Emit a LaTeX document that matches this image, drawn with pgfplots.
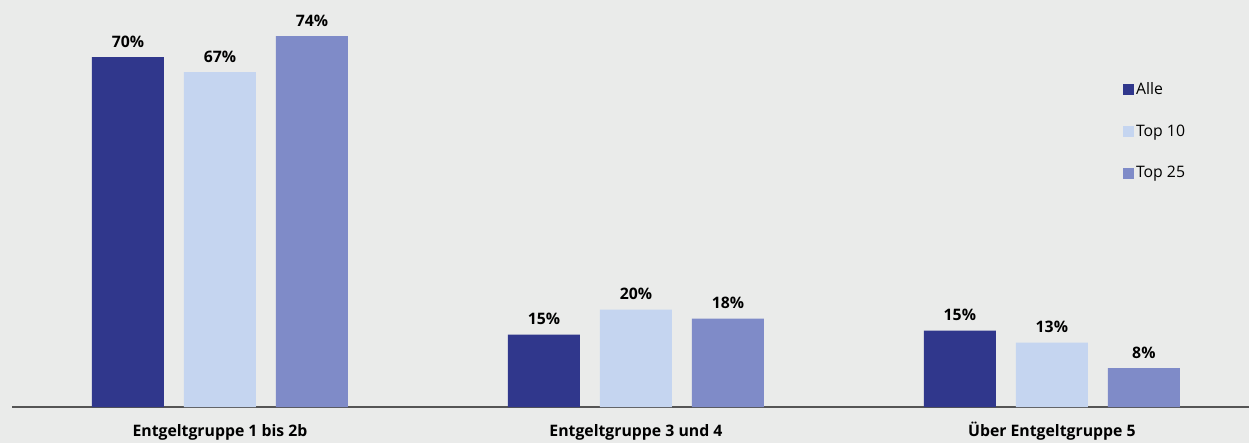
\documentclass[border=0pt]{standalone}
\usepackage{pgfplots}
\pgfplotsset{compat=1.18}
\usepackage{fontspec}
\setmainfont{Open Sans}
\usetikzlibrary{backgrounds}
\definecolor{bgc}{HTML}{EAEBEA}
\definecolor{cA}{HTML}{30378C}
\definecolor{cB}{HTML}{C5D5F0}
\definecolor{cC}{HTML}{7F8BC8}
\definecolor{axc}{HTML}{555555}
\begin{document}
\begin{tikzpicture}[font=\fontsize{7.9bp}{9bp}\selectfont]
\begin{axis}[
  name=ax,
  scale only axis,
  width=618.5bp, height=203.5bp,
  xmin=-0.5, xmax=2.474,
  ymin=0, ymax=81.4,
  ybar=10bp, bar width=36bp,
  axis x line*=bottom,
  axis y line=none,
  x axis line style={draw=axc, line width=0.6bp},
  xtick={0,1,2},
  xticklabels={Entgeltgruppe 1 bis 2b, Entgeltgruppe 3 und 4, Über Entgeltgruppe 5},
  xticklabel style={font=\fontsize{7.9bp}{9bp}\selectfont\bfseries, text height=6bp, text depth=1.8bp, yshift=-5.2bp, text=black},
  major tick length=0pt,
  clip=false,
  /pgf/number format/assume math mode=true,
  point meta=explicit,
  nodes near coords={\pgfmathprintnumber[fixed,precision=0,assume math mode=true]{\pgfplotspointmeta}\%},
  nodes near coords style={font=\fontsize{7.9bp}{9bp}\selectfont\bfseries, text=black, yshift=1.2bp},
  legend cell align=left,
  legend style={at={(0.893,0.813)}, anchor=north west, draw=none, fill=none,
    row sep=11.6bp, nodes={inner sep=1bp, anchor=west, text=black, font=\fontsize{7.9bp}{9bp}\selectfont}},
  legend image code/.code={\fill[#1,draw=none] (-2.5bp,-2.75bp) rectangle (3bp,2.75bp);},
]
\addplot[fill=cA, draw=none] coordinates {(0,70.0) [70] (1,14.5) [15] (2,15.3) [15]};
\addplot[fill=cB, draw=none] coordinates {(0,67.0) [67] (1,19.5) [20] (2,12.9) [13]};
\addplot[fill=cC, draw=none] coordinates {(0,74.2) [74] (1,17.7) [18] (2,7.8) [8]};
\legend{Alle, Top 10, Top 25}
\end{axis}
\pgfresetboundingbox
\begin{scope}[on background layer]
\fill[bgc] ([xshift=-6bp,yshift=-18bp]ax.south west) rectangle (ax.north east);
\end{scope}
\path[use as bounding box] ([xshift=-6bp,yshift=-18bp]ax.south west) rectangle (ax.north east);
\end{tikzpicture}
\end{document}
